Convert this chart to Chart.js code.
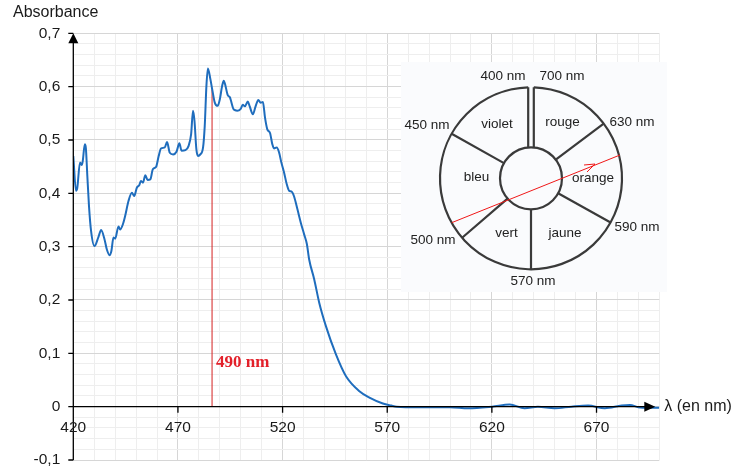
<!DOCTYPE html>
<html>
<head>
<meta charset="utf-8">
<script src="https://cdn.jsdelivr.net/npm/chart.js@4"></script>
<style>
  html, body { margin: 0; padding: 0; background: #fff; }
  #wrap { width: 752px; height: 469px; }
</style>
</head>
<body>
<div id="wrap"><canvas id="spectre" width="752" height="469"></canvas></div>
<script>
// spectre d'absorption
const lambda = [
  420, 421.3, 421.9, 423.2, 424.0, 424.5, 425.5, 426.0, 426.7, 427.5, 428.5, 430.1, 432.0, 433.3,
  434.9, 436.0, 437.3, 438.2, 439.2, 440.0, 441.6, 442.4, 443.7, 444.8, 446.4, 448.0, 449.1, 450.4,
  451.5, 452.3, 453.3, 454.4, 455.5, 456.8, 458.0, 459.6, 460.8, 461.9, 463.7, 464.8, 466.1, 467.7,
  469.3, 470.7, 471.7, 473.6, 475.1, 476.3, 477.2, 477.9, 478.8, 479.6, 480.7, 482.0, 482.8, 483.6,
  484.3, 485.5, 486.5, 487.6, 489.0, 490.0, 491.1, 491.9, 492.5, 493.8, 494.8, 496.7, 498.3, 499.9,
  501.0, 502.0, 503.4, 504.3, 505.8, 507.1, 508.4, 509.5, 510.6, 511.6, 512.7, 514.0, 515.1, 515.9,
  517.2, 518.3, 519.4, 520.7, 522.0, 523.1, 524.4, 525.5, 527.1, 528.7, 530.3, 531.6, 532.7, 535.1,
  537.5, 540.7, 545.5, 550.3, 556.7, 561.5, 567.9, 572.0, 574.5, 585, 600, 608.7, 620, 628.5,
  635.6, 642, 650, 658, 666, 674, 682, 686, 690, 695, 700
];
const absorbance = [
  0.470, 0.405, 0.410, 0.458, 0.453, 0.460, 0.492, 0.485, 0.433, 0.376, 0.329, 0.301, 0.318, 0.331,
  0.314, 0.295, 0.284, 0.292, 0.317, 0.315, 0.338, 0.332, 0.342, 0.358, 0.386, 0.401, 0.395, 0.411,
  0.415, 0.423, 0.420, 0.434, 0.425, 0.426, 0.445, 0.450, 0.470, 0.484, 0.486, 0.496, 0.476, 0.473,
  0.478, 0.494, 0.480, 0.481, 0.489, 0.511, 0.555, 0.536, 0.483, 0.470, 0.473, 0.486, 0.526, 0.601,
  0.634, 0.614, 0.592, 0.570, 0.564, 0.576, 0.601, 0.611, 0.605, 0.584, 0.580, 0.557, 0.555, 0.558,
  0.566, 0.563, 0.572, 0.563, 0.548, 0.563, 0.575, 0.570, 0.571, 0.542, 0.520, 0.513, 0.492, 0.484,
  0.486, 0.477, 0.458, 0.439, 0.417, 0.405, 0.403, 0.394, 0.370, 0.345, 0.323, 0.305, 0.276, 0.239,
  0.195, 0.151, 0.098, 0.057, 0.029, 0.017, 0.006, 0.002, 0.000, -0.001, -0.001, -0.003, 0.000, 0.004,
  -0.003, 0.000, -0.003, 0.000, 0.002, -0.003, 0.002, 0.003, -0.001, -0.002, -0.002
];

// repère vertical "490 nm"
const repereX = [486.3, 486.3];
const repereY = [0, 0.595];

const xTicks = [420, 470, 520, 570, 620, 670];
const yTicks = [-0.1, 0, 0.1, 0.2, 0.3, 0.4, 0.5, 0.6, 0.7];
const xMin = 420, xMax = 700, yMin = -0.1, yMax = 0.7;

// cercle chromatique
const wheelCouleurs = ["violet", "rouge", "bleu", "orange", "vert", "jaune"];
const wheelLongueurs = ["400 nm", "700 nm", "450 nm", "630 nm", "590 nm", "500 nm", "570 nm"];

const courbe = lambda.map(function (l, i) { return { x: l, y: absorbance[i] }; });
const repere = repereX.map(function (l, i) { return { x: l, y: repereY[i] }; });

function fmt(v) {
  return (Math.round(v * 10) / 10).toString().replace(".", ",");
}

function isMajorY(v) {
  return Math.abs(v * 10 - Math.round(v * 10)) < 1e-6;
}

const habillage = {
  id: "habillage",
  afterDraw: function (chart) {
    const c = chart.ctx;
    const xs = chart.scales.x;
    const ys = chart.scales.y;
    const x0 = xs.getPixelForValue(xMin);
    const y0 = ys.getPixelForValue(0);
    const yTop = ys.getPixelForValue(yMax);
    const yBot = ys.getPixelForValue(yMin);
    const xEnd = xs.getPixelForValue(xMax) - 4;

    c.save();
    // axes
    c.strokeStyle = "#000";
    c.lineWidth = 1.3;
    c.beginPath();
    c.moveTo(x0, yBot);
    c.lineTo(x0, yTop + 8);
    c.moveTo(x0, y0);
    c.lineTo(xEnd - 8, y0);
    for (const t of yTicks) {
      const py = ys.getPixelForValue(t);
      c.moveTo(x0 - 5, py);
      c.lineTo(x0, py);
    }
    for (const t of xTicks) {
      if (t === xMin) continue;
      const px = xs.getPixelForValue(t);
      c.moveTo(px, y0);
      c.lineTo(px, y0 + 6);
    }
    c.stroke();

    c.fillStyle = "#000";
    c.beginPath();
    c.moveTo(x0, yTop);
    c.lineTo(x0 - 5, yTop + 10);
    c.lineTo(x0 + 5, yTop + 10);
    c.closePath();
    c.fill();
    c.beginPath();
    c.moveTo(xEnd, y0);
    c.lineTo(xEnd - 11, y0 - 5);
    c.lineTo(xEnd - 11, y0 + 5);
    c.closePath();
    c.fill();

    // graduations
    c.fillStyle = "#1a1a1a";
    c.font = "15.5px 'Liberation Sans', Arial, sans-serif";
    c.textAlign = "right";
    c.textBaseline = "middle";
    for (const t of yTicks) {
      c.fillText(fmt(t), x0 - 13, ys.getPixelForValue(t));
    }
    c.textAlign = "center";
    for (const t of xTicks) {
      c.fillText(String(t), xs.getPixelForValue(t), y0 + 21);
    }
    c.font = "16px 'Liberation Sans', Arial, sans-serif";
    c.textAlign = "left";
    c.fillText("Absorbance", 13, 13);
    c.fillText("λ (en nm)", xEnd + 9, y0);

    // étiquette du repère
    c.fillStyle = "#e3202a";
    c.font = "bold 17px 'Liberation Serif', 'Times New Roman', serif";
    c.textAlign = "left";
    c.fillText("490 nm", xs.getPixelForValue(repereX[0]) + 4, ys.getPixelForValue(0.083));

    // encart : cercle chromatique
    c.fillStyle = "#fafbfd";
    c.fillRect(401, 62, 266, 230);

    const cx = 531, cy = 178.3, R = 91, r = 31, g = 2.8;
    c.strokeStyle = "#3a3a3a";
    c.lineWidth = 2.2;
    const d = Math.asin(g / R);
    c.beginPath();
    c.arc(cx, cy, R, -Math.PI / 2 + d, 1.5 * Math.PI - d);
    c.stroke();
    c.beginPath();
    c.arc(cx, cy, r, 0, 2 * Math.PI);
    c.stroke();
    c.beginPath();
    for (const s of [-g, g]) {
      c.moveTo(cx + s, cy - Math.sqrt(r * r - g * g));
      c.lineTo(cx + s, cy - Math.sqrt(R * R - g * g));
    }
    for (const a of [-150.7, -37, 29, 90, 139.2]) {
      const rad = a * Math.PI / 180;
      c.moveTo(cx + r * Math.cos(rad), cy + r * Math.sin(rad));
      c.lineTo(cx + R * Math.cos(rad), cy + R * Math.sin(rad));
    }
    c.stroke();

    c.fillStyle = "#222";
    c.font = "13.5px 'Liberation Sans', Arial, sans-serif";
    c.textAlign = "center";
    c.textBaseline = "middle";
    const posCouleurs = [[497, 124.5], [562.5, 122], [476.5, 177.5], [593, 178.5], [506.5, 233.5], [565, 233.5]];
    wheelCouleurs.forEach(function (t, i) { c.fillText(t, posCouleurs[i][0], posCouleurs[i][1]); });
    const posLongueurs = [[503, 76.5], [562, 76.5], [427, 125], [632, 122], [637, 227], [433, 240], [533, 281]];
    wheelLongueurs.forEach(function (t, i) { c.fillText(t, posLongueurs[i][0], posLongueurs[i][1]); });

    // flèche rouge
    c.strokeStyle = "#f01818";
    c.lineWidth = 1;
    c.beginPath();
    c.moveTo(451.7, 222.7);
    c.lineTo(620, 155);
    c.moveTo(595, 164);
    c.lineTo(584, 165);
    c.moveTo(595, 164);
    c.lineTo(587, 172);
    c.stroke();
    c.restore();
  }
};

const ctx = document.getElementById("spectre").getContext("2d");
const chart = new Chart(ctx, {
  type: "line",
  data: {
    datasets: [
      {
        data: courbe,
        borderColor: "#1f6dbd",
        borderWidth: 2,
        pointRadius: 0,
        cubicInterpolationMode: "monotone",
        fill: false
      },
      {
        data: repere,
        borderColor: "#d42020",
        borderWidth: 1,
        pointRadius: 0,
        fill: false
      }
    ]
  },
  options: {
    responsive: false,
    animation: false,
    events: [],
    layout: { padding: { left: 73.3, right: 92.7, top: 33.3, bottom: 9 } },
    plugins: { legend: { display: false }, tooltip: { enabled: false } },
    scales: {
      x: {
        type: "linear",
        min: xMin,
        max: xMax,
        afterFit: function (s) { s.height = 0; },
        border: { display: false },
        ticks: { display: false, stepSize: 10, maxTicksLimit: 100 },
        grid: {
          drawTicks: false,
          color: function (c) { return (c.tick.value - xMin) % 50 === 0 ? "#d6d6d6" : "#eeeeee"; }
        }
      },
      y: {
        type: "linear",
        min: yMin,
        max: yMax,
        afterFit: function (s) { s.width = 0; },
        border: { display: false },
        ticks: { display: false, stepSize: 0.02, maxTicksLimit: 100 },
        grid: {
          drawTicks: false,
          color: function (c) { return isMajorY(c.tick.value) ? "#d6d6d6" : "#eeeeee"; }
        }
      }
    }
  },
  plugins: [habillage]
});
</script>
</body>
</html>
